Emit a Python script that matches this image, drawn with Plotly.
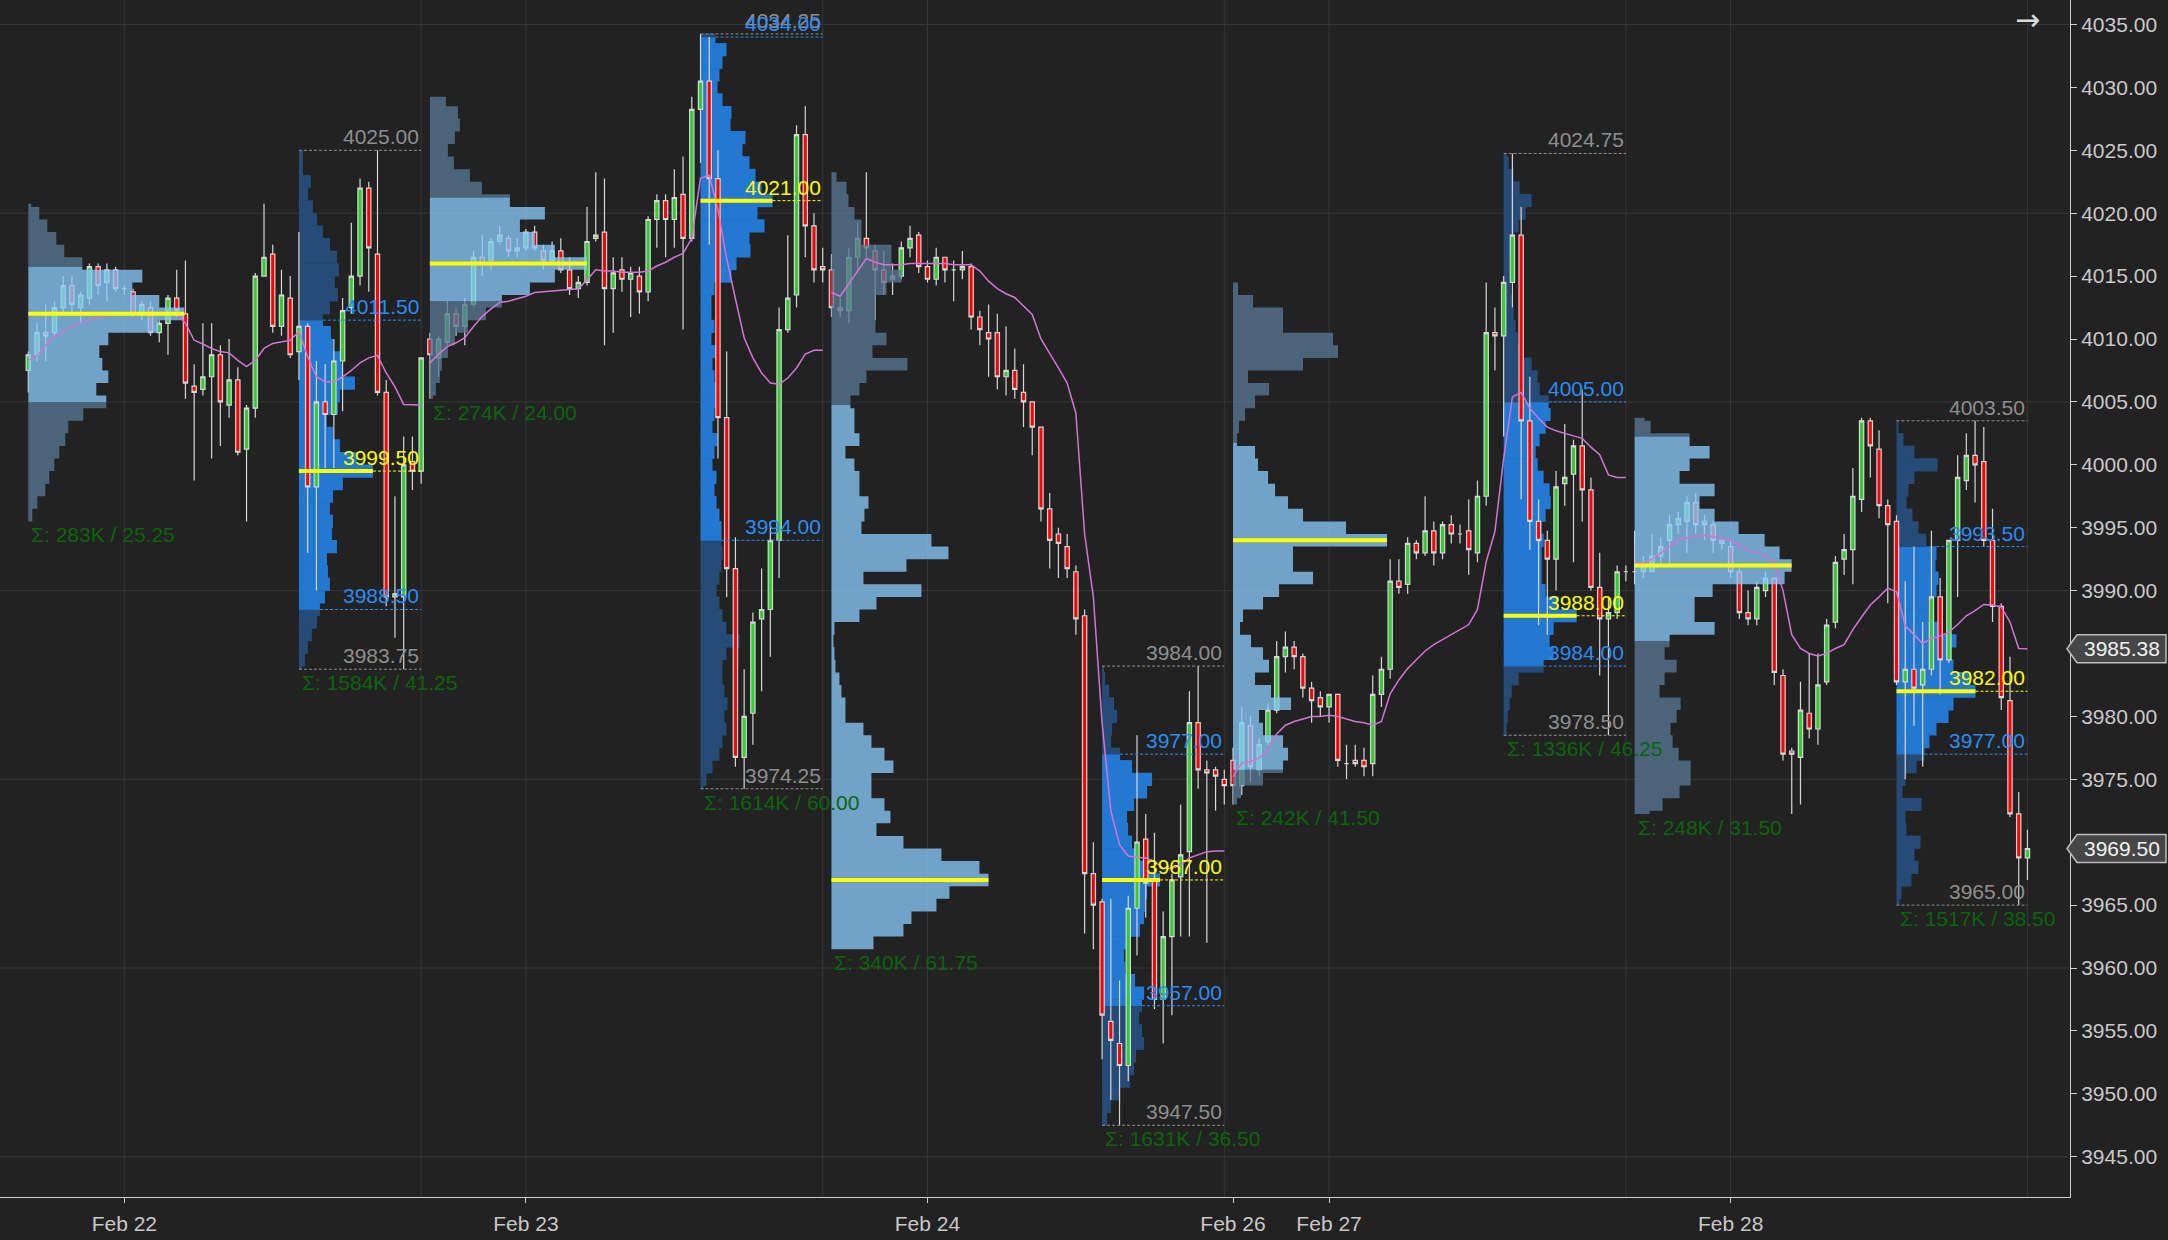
import plotly.graph_objects as go

# ---------------- DATA ----------------
# 30-minute bars, index 0..229 (gaps between sessions removed)
opens = [4007.5, 4008.75, 4010.5, 4010.5, 4012.5, 4014.25, 4012.5, 4013.25, 4015.75, 4014.5,
         4015.5, 4014.0, 4013.75, 4012.0, 4012.5, 4010.5, 4011.25, 4013.25, 4012.0, 4006.25,
         4006.0, 4007.0, 4008.75, 4004.75, 4006.75, 4001.25, 4004.5, 4015.0, 4016.75, 4011.0,
         4013.25, 4009.0, 4011.0, 3998.25, 4005.0, 4004.0, 4008.25, 4012.5, 4015.0, 4022.0,
         4016.75, 4005.75, 3989.5, 3989.5, 4000.25, 3999.5, 4010.0, 4008.5, 4009.75, 4012.0,
         4011.0, 4012.75, 4016.5, 4016.25, 4017.75, 4018.0, 4017.0, 4017.25, 4018.5, 4017.0,
         4016.25, 4017.0, 4015.5, 4014.0, 4014.5, 4018.0, 4018.5, 4014.0, 4015.5, 4014.75,
         4015.0, 4013.75, 4019.5, 4021.0, 4019.5, 4021.5, 4018.0, 4028.25, 4030.5, 4022.75,
         4003.75, 3991.75, 3976.75, 3980.25, 3987.75, 3988.5, 3994.0, 4010.75, 4013.5, 4026.25,
         4019.0, 4015.75, 4015.5, 4012.5, 4012.25, 4016.5, 4018.0, 4017.0, 4015.5, 4014.75,
         4015.0, 4017.25, 4018.25, 4015.75, 4014.75, 4016.5, 4015.5, 4015.5, 4015.75, 4011.75,
         4010.5, 4010.5, 4007.0, 4007.5, 4005.75, 4005.0, 4003.0, 3996.5, 3994.5, 3993.5,
         3991.5, 3988.0, 3967.5, 3965.25, 3955.75, 3954.0, 3952.25, 3964.75, 3970.25, 3967.0,
         3957.5, 3962.5, 3967.25, 3969.25, 3979.5, 3975.75, 3975.75, 3975.0, 3976.5, 3974.5,
         3979.25, 3975.75, 3978.0, 3980.5, 3984.75, 3985.5, 3984.75, 3982.25, 3981.5, 3980.75,
         3981.75, 3976.25, 3976.5, 3976.5, 3976.25, 3981.75, 3983.75, 3990.75, 3990.5, 3993.75,
         3993.0, 3994.75, 3993.0, 3995.25, 3994.5, 3994.75, 3993.0, 3997.5, 4010.5, 4010.25,
         4014.5, 4018.25, 4003.5, 3995.5, 3994.0, 3992.5, 3998.5, 3999.25, 4001.5, 3998.0,
         3990.25, 3987.75, 3988.25, 3991.5, 3991.5, 3991.5, 3991.5, 3992.75, 3994.0, 3995.25,
         3995.5, 3997.0, 3995.5, 3995.25, 3994.0, 3993.5, 3991.5, 3988.25, 3987.75, 3990.0,
         3991.0, 3983.25, 3977.25, 3976.75, 3980.25, 3979.0, 3982.75, 3987.5, 3992.5, 3993.25,
         3997.25, 4003.5, 4001.25, 3996.75, 3995.5, 3982.75, 3983.75, 3982.5, 3983.75, 3989.5,
         3984.5, 3994.0, 3998.75, 4000.75, 4000.25, 3994.0, 3988.75, 3981.25, 3972.25, 3968.75]
highs = [4009.0, 4011.25, 4012.75, 4013.0, 4015.0, 4015.0, 4013.75, 4016.0, 4016.0, 4016.0,
         4015.75, 4014.25, 4014.0, 4013.0, 4013.0, 4011.5, 4013.5, 4015.5, 4016.25, 4008.0,
         4011.25, 4011.25, 4009.5, 4010.0, 4007.75, 4004.75, 4015.25, 4020.75, 4017.5, 4015.5,
         4015.0, 4018.5, 4011.25, 4008.25, 4008.0, 4010.0, 4013.25, 4019.25, 4022.75, 4022.5,
         4025.0, 4006.75, 3997.5, 4002.25, 4002.25, 4008.5, 4010.5, 4010.25, 4013.0, 4012.5,
         4013.25, 4017.0, 4018.25, 4018.0, 4019.0, 4018.25, 4018.0, 4018.75, 4019.0, 4017.5,
         4017.75, 4018.0, 4016.5, 4015.0, 4020.5, 4023.25, 4022.75, 4016.5, 4016.5, 4015.75,
         4015.75, 4019.75, 4021.5, 4021.5, 4023.5, 4024.5, 4029.25, 4034.25, 4034.0, 4025.0,
         4009.0, 3994.25, 3983.75, 3988.25, 3991.75, 3995.5, 4012.5, 4018.25, 4027.0, 4028.5,
         4020.0, 4017.25, 4016.75, 4013.25, 4017.25, 4019.25, 4023.25, 4017.5, 4017.0, 4016.0,
         4017.75, 4019.0, 4018.5, 4016.25, 4017.25, 4016.5, 4016.25, 4017.0, 4016.0, 4012.25,
         4012.75, 4012.0, 4011.0, 4009.25, 4008.0, 4005.0, 4003.0, 3997.75, 3995.0, 3994.5,
         3992.0, 3988.5, 3970.0, 3965.5, 3965.5, 3959.0, 3965.75, 3978.5, 3972.25, 3970.75,
         3964.5, 3967.5, 3973.0, 3982.0, 3984.0, 3976.5, 3976.0, 3975.75, 3977.5, 3980.75,
         3980.0, 3978.25, 3981.0, 3986.0, 3986.75, 3986.0, 3985.0, 3982.75, 3982.0, 3981.75,
         3981.75, 3977.75, 3977.75, 3977.5, 3983.25, 3984.75, 3992.5, 3992.5, 3994.25, 3994.0,
         3997.5, 3995.5, 3995.5, 3996.0, 3995.25, 3997.25, 3998.75, 4014.5, 4012.5, 4015.0,
         4024.75, 4020.5, 4007.0, 3997.25, 3994.75, 3999.5, 4003.25, 4002.0, 4006.0, 3999.0,
         3993.0, 3989.5, 3992.0, 3992.0, 3994.75, 3992.75, 3994.5, 3994.25, 3996.0, 3996.25,
         3997.5, 3997.75, 3996.0, 3995.5, 3994.0, 3994.0, 3992.0, 3990.0, 3990.75, 3991.5,
         3991.0, 3983.75, 3977.5, 3982.75, 3985.0, 3985.0, 3987.75, 3992.75, 3994.5, 3999.75,
         4003.75, 4003.75, 4002.75, 3997.25, 3996.0, 3990.75, 3993.5, 3987.5, 3994.75, 3991.0,
         3994.0, 4000.75, 4002.5, 4003.5, 4003.0, 3996.5, 3989.0, 3984.75, 3974.0, 3971.0]
lows = [4005.75, 4008.25, 4008.25, 4010.25, 4012.0, 4012.0, 4011.25, 4012.75, 4013.5, 4013.0,
        4013.75, 4013.5, 4011.75, 4011.5, 4010.25, 4009.75, 4008.75, 4011.75, 4005.25, 3998.75,
        4005.5, 4000.5, 4001.5, 4003.75, 4000.75, 3995.5, 4003.75, 4015.0, 4010.5, 4010.25,
        4008.5, 4006.75, 3993.0, 3990.0, 3999.75, 3999.75, 4004.25, 4012.0, 4014.25, 4013.75,
        4005.5, 3988.75, 3986.25, 3983.75, 3998.0, 3998.5, 4005.25, 4007.0, 4009.5, 4010.25,
        4009.5, 4012.5, 4015.0, 4015.5, 4017.5, 4016.5, 4016.5, 4017.0, 4017.0, 4015.5,
        4016.0, 4015.25, 4013.5, 4013.25, 4014.25, 4017.75, 4009.5, 4010.5, 4013.75, 4011.75,
        4012.0, 4013.0, 4017.25, 4016.5, 4017.25, 4010.75, 4017.75, 4024.0, 4017.5, 4000.5,
        3989.5, 3976.0, 3974.25, 3977.75, 3982.0, 3984.75, 3991.0, 4010.5, 4012.5, 4016.5,
        4014.5, 4014.5, 4011.75, 4011.75, 4011.25, 4015.5, 4016.5, 4011.5, 4013.5, 4013.5,
        4014.75, 4016.5, 4015.25, 4014.5, 4014.25, 4014.5, 4013.0, 4014.75, 4010.75, 4009.5,
        4007.0, 4006.0, 4005.5, 4005.25, 4003.0, 4000.75, 3995.5, 3991.75, 3991.0, 3991.0,
        3986.5, 3962.75, 3961.5, 3952.75, 3949.5, 3947.5, 3951.0, 3961.0, 3964.0, 3956.75,
        3954.0, 3956.25, 3962.5, 3962.5, 3974.25, 3962.0, 3972.5, 3973.0, 3973.0, 3973.75,
        3974.75, 3975.25, 3977.75, 3980.25, 3983.5, 3983.75, 3981.5, 3979.5, 3980.0, 3979.5,
        3976.0, 3975.0, 3976.0, 3975.25, 3975.25, 3980.75, 3983.0, 3989.75, 3989.75, 3992.5,
        3992.75, 3992.0, 3992.5, 3993.75, 3993.75, 3991.25, 3992.25, 3996.75, 4007.5, 4002.25,
        4012.5, 3997.25, 3993.25, 3987.25, 3986.5, 3990.0, 3996.75, 3992.25, 3995.5, 3990.0,
        3983.25, 3978.5, 3987.75, 3990.75, 3990.5, 3991.0, 3991.5, 3992.0, 3992.0, 3994.5,
        3993.0, 3994.5, 3994.0, 3993.0, 3993.25, 3991.0, 3987.75, 3987.25, 3987.25, 3989.5,
        3982.5, 3976.5, 3972.25, 3973.0, 3978.25, 3977.75, 3982.5, 3987.0, 3991.25, 3990.5,
        3996.25, 3999.0, 3995.75, 3989.0, 3982.5, 3975.0, 3979.25, 3976.0, 3983.25, 3981.75,
        3984.25, 3989.5, 3998.0, 3997.0, 3993.5, 3987.5, 3980.5, 3972.0, 3965.0, 3967.0]
closes = [4008.75, 4010.5, 4010.25, 4012.5, 4014.25, 4012.75, 4013.5, 4015.75, 4014.25, 4015.5,
          4014.0, 4014.0, 4012.0, 4012.75, 4010.5, 4011.25, 4013.25, 4012.25, 4006.5, 4005.75,
          4007.0, 4008.75, 4005.0, 4006.75, 4001.0, 4004.5, 4015.0, 4016.5, 4011.0, 4013.5,
          4008.75, 4011.0, 3998.25, 4005.0, 4004.0, 4008.25, 4012.25, 4015.0, 4022.0, 4017.25,
          4005.75, 3989.5, 3989.75, 4000.0, 3999.5, 4008.5, 4008.75, 4010.0, 4012.0, 4011.0,
          4012.75, 4016.5, 4016.0, 4017.75, 4018.25, 4017.0, 4017.25, 4018.5, 4017.25, 4016.25,
          4017.0, 4015.5, 4014.0, 4014.5, 4017.75, 4018.25, 4014.0, 4015.25, 4014.75, 4015.25,
          4013.75, 4019.5, 4021.0, 4019.5, 4021.25, 4018.0, 4028.25, 4030.5, 4022.75, 4003.75,
          3991.75, 3976.75, 3980.0, 3987.5, 3988.5, 3994.0, 4010.75, 4013.25, 4026.25, 4019.0,
          4015.5, 4015.5, 4012.5, 4012.25, 4016.5, 4018.0, 4017.25, 4015.5, 4014.5, 4015.0,
          4017.25, 4018.0, 4015.75, 4014.75, 4016.5, 4015.5, 4015.5, 4015.75, 4011.75, 4010.75,
          4010.0, 4007.0, 4007.5, 4006.0, 4005.0, 4003.0, 3996.5, 3994.0, 3993.75, 3991.75,
          3987.75, 3967.5, 3965.0, 3956.25, 3954.25, 3952.25, 3964.75, 3970.0, 3966.75, 3957.5,
          3962.5, 3967.0, 3969.0, 3979.5, 3975.75, 3975.5, 3975.25, 3974.5, 3974.5, 3979.5,
          3976.0, 3977.75, 3980.5, 3984.75, 3985.5, 3984.75, 3982.25, 3981.25, 3980.75, 3981.75,
          3976.5, 3976.25, 3976.25, 3976.0, 3981.75, 3983.75, 3990.75, 3990.25, 3993.75, 3993.0,
          3994.75, 3993.0, 3995.25, 3994.5, 3994.5, 3993.25, 3997.5, 4010.5, 4010.25, 4014.5,
          4018.25, 4003.5, 3995.5, 3994.0, 3992.5, 3998.25, 3999.0, 4001.5, 3998.0, 3990.25,
          3987.75, 3988.25, 3991.5, 3991.5, 3991.5, 3992.0, 3992.75, 3993.5, 3995.25, 3995.75,
          3997.0, 3995.25, 3995.25, 3994.0, 3993.75, 3991.5, 3988.25, 3987.75, 3990.25, 3991.0,
          3983.5, 3977.0, 3977.0, 3980.5, 3979.0, 3982.5, 3987.25, 3992.25, 3993.25, 3997.5,
          4003.5, 4001.5, 3996.75, 3995.25, 3982.75, 3983.75, 3982.25, 3983.75, 3989.5, 3984.5,
          3994.0, 3999.0, 4000.75, 4000.0, 3994.0, 3988.75, 3981.5, 3972.25, 3968.75, 3969.5]

# session VWAP (one list per 46-bar session)
session_first_bar = [0, 46, 92, 138, 184]
vwap_1 = [4008.3, 4008.65, 4009.5, 4010.2, 4010.6, 4011.0, 4011.3, 4011.5, 4011.7, 4011.9,
          4012.0, 4012.0, 4012.0, 4012.0, 4012.0, 4012.0, 4012.0, 4012.0, 4011.25, 4009.9,
          4009.6, 4009.25, 4009.0, 4008.9, 4008.3, 4007.8, 4008.3, 4009.25, 4009.65, 4009.8,
          4009.9, 4010.6, 4008.6, 4007.0, 4006.6, 4006.6, 4007.0, 4007.5, 4008.1, 4008.5,
          4008.7, 4007.3, 4006.2, 4004.8, 4004.75, 4004.75]
vwap_2 = [4008.1, 4008.8, 4009.4, 4009.7, 4010.1, 4011.0, 4011.8, 4012.4, 4012.9, 4013.0,
          4013.2, 4013.4, 4013.7, 4013.75, 4013.8, 4013.9, 4013.95, 4014.0, 4014.7, 4015.5,
          4015.4, 4015.4, 4015.3, 4015.3, 4015.3, 4015.4, 4015.8, 4016.1, 4016.5, 4016.8,
          4018.0, 4022.8, 4023.0, 4020.3, 4016.4, 4013.2, 4010.1, 4008.5, 4007.3, 4006.5,
          4006.4, 4006.9, 4007.7, 4008.8, 4009.1, 4009.1]
vwap_3 = [4013.7, 4013.4, 4014.4, 4015.4, 4016.4, 4016.1, 4015.9, 4015.9, 4015.9, 4016.0,
          4016.0, 4016.0, 4016.0, 4016.0, 4015.9, 4015.9, 4015.9, 4015.4, 4014.6, 4014.0,
          4013.6, 4013.3, 4012.6, 4011.95, 4010.0, 4008.9, 4007.7, 4006.5, 4004.1, 3994.5,
          3989.5, 3979.5, 3972.5, 3969.8, 3968.9, 3968.8, 3968.75, 3968.5, 3967.9, 3967.9,
          3968.2, 3968.75, 3969.0, 3969.25, 3969.3, 3969.3]
vwap_4 = [3975.2, 3976.3, 3976.4, 3976.7, 3977.3, 3978.6, 3979.3, 3979.6, 3979.8, 3980.0,
          3980.0, 3980.1, 3980.0, 3979.8, 3979.6, 3979.5, 3979.3, 3979.6, 3981.8, 3982.9,
          3983.8, 3984.5, 3985.2, 3985.7, 3986.1, 3986.5, 3986.9, 3987.3, 3988.5, 3992.3,
          3994.7, 4000.5, 4005.4, 4005.75, 4004.5, 4003.7, 4003.0, 4002.7, 4002.5, 4002.3,
          4002.1, 4001.4, 4000.8, 3999.2, 3999.0, 3999.0]
vwap_5 = [3992.2, 3992.2, 3992.5, 3993.0, 3993.5, 3994.0, 3994.2, 3994.3, 3994.4, 3994.3,
          3994.1, 3994.0, 3993.6, 3993.2, 3993.0, 3992.8, 3992.2, 3990.0, 3986.5, 3985.4,
          3985.0, 3984.8, 3985.0, 3985.4, 3985.7, 3986.9, 3987.9, 3988.85, 3989.5, 3990.2,
          3989.9, 3987.2, 3986.5, 3985.8, 3986.2, 3986.4, 3986.7, 3987.3, 3988.0, 3988.4,
          3988.9, 3988.85, 3988.7, 3987.5, 3985.4, 3985.38]
vwaps = [vwap_1, vwap_2, vwap_3, vwap_4, vwap_5]

# volume profiles (ETH / RTH alternating)
prof_kind = ["ETH", "RTH", "ETH", "RTH", "ETH", "RTH", "ETH", "RTH", "ETH", "RTH"]
prof_first_bar = [0, 31, 46, 77, 92, 123, 138, 169, 184, 214]
prof_last_bar = [30, 45, 76, 91, 122, 137, 168, 183, 213, 229]
prof_high = [4020.75, 4025.00, 4029.25, 4034.25, 4023.25, 3984.00, 4014.50, 4024.75, 4003.75, 4003.50]
prof_low = [3995.50, 3983.75, 4005.25, 3974.25, 3961.50, 3947.50, 3973.00, 3978.50, 3972.25, 3965.00]
prof_vah = [4015.75, 4011.50, 4021.25, 4034.00, 4004.75, 3977.00, 4001.75, 4005.00, 4002.25, 3993.50]
prof_poc = [4012.00, 3999.50, 4016.00, 4021.00, 3967.00, 3967.00, 3994.00, 3988.00, 3992.00, 3982.00]
prof_val = [4005.00, 3988.50, 4013.00, 3994.00, 3961.50, 3957.00, 3975.75, 3984.00, 3986.00, 3977.00]
prof_total = ["283K", "1584K", "274K", "1614K", "340K", "1631K", "242K", "1336K", "248K", "1517K"]
prof_first_bin = [3996, 3983.5, 4005, 3974, 3962, 3948, 3973, 3979, 3972, 3965]  # centre of lowest 1-pt row

vol_p1 = [4, 9, 17, 21, 26, 31, 37, 40, 55, 78, 68, 80, 74, 71, 80, 130, 156, 131, 104, 114,
          54, 36, 28, 19, 11, 3]
vol_p2 = [3, 6, 9, 13, 18, 21, 26, 31, 29, 28, 38, 33, 34, 31, 34, 44, 74, 58, 41, 34,
          28, 39, 41, 56, 44, 42, 34, 32, 24, 31, 39, 36, 40, 38, 31, 24, 18, 14, 9, 12, 4, 4]
vol_p3 = [3, 6, 10, 12, 18, 25, 38, 56, 72, 100, 125, 157, 125, 105, 90, 115, 80, 52, 40, 24,
          18, 25, 30, 28, 16]
vol_p4 = [3, 6, 12, 19, 22, 26, 24, 27, 24, 22, 22, 26, 39, 26, 22, 19, 16, 19, 21, 22,
          21, 21, 19, 16, 14, 16, 12, 14, 17, 12, 14, 16, 17, 14, 12, 17, 11, 14, 11, 11,
          14, 31, 36, 50, 49, 64, 57, 72, 61, 55, 49, 42, 45, 30, 31, 22, 17, 19, 22, 26, 15]
vol_p5 = [42, 72, 80, 105, 118, 157, 148, 110, 72, 45, 59, 53, 40, 40, 62, 53, 40, 32, 14, 14,
          10, 8, 4, 3, 2, 3, 28, 45, 90, 32, 75, 117, 100, 30, 33, 37, 28, 28, 23, 14,
          28, 23, 23, 19, 28, 35, 76, 41, 55, 44, 44, 44, 55, 70, 60, 60, 30, 30, 23, 17, 15, 5]
vol_p6 = [5, 9, 18, 28, 32, 34, 42, 40, 37, 40, 42, 33, 23, 22, 28, 38, 42, 43, 45, 58,
          42, 34, 30, 26, 25, 32, 45, 50, 30, 18, 9, 10, 15, 12, 7, 3, 1]
vol_p7 = [4, 8, 30, 50, 55, 50, 30, 26, 58, 38, 22, 36, 30, 18, 7, 10, 30, 46, 80, 60,
          60, 154, 113, 70, 55, 42, 35, 25, 22, 4, 6, 12, 22, 36, 15, 70, 105, 100, 50, 50, 20, 5]
vol_p8 = [3, 4, 6, 8, 15, 40, 50, 46, 50, 73, 55, 42, 38, 38, 38, 40, 38, 42, 47, 46,
          40, 34, 32, 36, 42, 47, 45, 36, 34, 28, 20, 14, 12, 10, 8, 7, 6, 6, 8, 11,
          15, 22, 28, 16, 10, 5, 3]
vol_p9 = [15, 28, 45, 56, 56, 44, 38, 36, 42, 46, 25, 30, 42, 30, 35, 80, 60, 60, 78, 150,
          157, 145, 130, 104, 80, 65, 80, 45, 55, 75, 55, 16, 10]
vol_p10 = [3, 5, 15, 22, 18, 24, 10, 9, 25, 6, 9, 20, 28, 33, 40, 52, 57, 79, 74, 57,
           55, 60, 45, 32, 32, 40, 42, 39, 40, 30, 22, 16, 10, 12, 18, 41, 18, 7, 2]
prof_vols = [vol_p1, vol_p2, vol_p3, vol_p4, vol_p5, vol_p6, vol_p7, vol_p8, vol_p9, vol_p10]

date_tick_bar = [11, 57, 103, 138, 149, 195]
date_tick_text = ["Feb 22", "Feb 23", "Feb 24", "Feb 26", "Feb 27", "Feb 28"]
day_line_bar = [11, 45, 57, 91, 103, 137, 149, 183, 195, 229]
price_ticks = [3945 + 5 * k for k in range(19)]
grid_prices = price_ticks[::3]

# ---------------- STYLE ----------------
BG = "#222222"
GRID = "#363636"
AXIS = "#cfcfcf"
TXT = "#c8c8c8"
FONT = "Liberation Sans, Arial, sans-serif"
VOL_TO_BARS = 1.0 / 8.73          # profile length scale (volume units -> bar widths)
ETH_VA = "rgba(136,200,248,0.78)"
ETH_OUT = "rgba(87,119,147,0.78)"
RTH_VA = "#2378d2"
RTH_OUT = "#254b76"
GRAY_LBL = "#8e8e8e"
BLUE_LBL = "#2a8cf4"
YELLOW = "#ffff00"
GREEN_TXT = "#0b640b"
ROW_OVERLAP = 0.05   # hide anti-aliasing seams between rows


def segs(first_c, vols, lo, hi, a, b):
    out = []
    for k, v in enumerate(vols):
        c = first_c + k
        s0 = max(c - 0.5, lo, a)
        s1 = min(c + 0.5, hi, b)
        if s1 > s0 + 1e-9:
            out.append((s0, s1, v))
    return out


def vol_at(first_c, vols, p):
    k = int(round(p - first_c))
    k = max(0, min(len(vols) - 1, k))
    return vols[k]


fig = go.Figure()

# RTH profiles (bars, below candles)
by, bx, bb, bw, bc = [], [], [], [], []
for j in range(10):
    if prof_kind[j] != "RTH":
        continue
    parts = [(prof_low[j], prof_val[j], RTH_OUT), (prof_val[j], prof_vah[j], RTH_VA),
             (prof_vah[j], prof_high[j], RTH_OUT)]
    for a, b, col in parts:
        for s0, s1, v in segs(prof_first_bin[j], prof_vols[j], prof_low[j], prof_high[j], a, b):
            by.append((s0 + s1) / 2)
            bw.append(s1 - s0 + ROW_OVERLAP)
            bx.append(v * VOL_TO_BARS)
            bb.append(prof_first_bar[j])
            bc.append(col)
fig.add_trace(go.Bar(orientation="h", y=by, x=bx, base=bb, width=bw,
                     marker=dict(color=bc, line=dict(width=0)),
                     hoverinfo="skip", showlegend=False))

# candles
fig.add_trace(go.Candlestick(
    x=list(range(len(opens))), open=opens, high=highs, low=lows, close=closes,
    increasing=dict(fillcolor="#33cc33", line=dict(color="#d6d6d6", width=1.2)),
    decreasing=dict(fillcolor="#ff0000", line=dict(color="#d6d6d6", width=1.2)),
    whiskerwidth=0, showlegend=False, hoverinfo="skip"))

# ETH profiles (translucent polygons above candles)
poly = {ETH_OUT: ([], []), ETH_VA: ([], [])}
for j in range(10):
    if prof_kind[j] != "ETH":
        continue
    x0 = prof_first_bar[j]
    parts = [(prof_low[j], prof_val[j], ETH_OUT), (prof_val[j], prof_vah[j], ETH_VA),
             (prof_vah[j], prof_high[j], ETH_OUT)]
    for a, b, col in parts:
        ss = segs(prof_first_bin[j], prof_vols[j], prof_low[j], prof_high[j], a, b)
        if not ss:
            continue
        xs, ys = [x0], [ss[0][0]]
        for s0, s1, v in ss:
            w = x0 + v * VOL_TO_BARS
            xs += [w, w]
            ys += [s0, s1]
        xs += [x0, None]
        ys += [ss[-1][1], None]
        poly[col][0].extend(xs)
        poly[col][1].extend(ys)
for col, (xs, ys) in poly.items():
    fig.add_trace(go.Scatter(x=xs, y=ys, mode="lines", fill="toself", fillcolor=col,
                             line=dict(width=0, color="rgba(0,0,0,0)"),
                             hoverinfo="skip", showlegend=False))

# VWAP
vx, vy = [], []
for s, vals in zip(session_first_bar, vwaps):
    vx += list(range(s, s + len(vals))) + [None]
    vy += vals + [None]
fig.add_trace(go.Scatter(x=vx, y=vy, mode="lines", line=dict(color="#d274d4", width=1.5),
                         hoverinfo="skip", showlegend=False))

# RTH reference lines
lines = {GRAY_LBL: ([], []), BLUE_LBL: ([], []), YELLOW: ([], [])}
annotations = []
for j in range(10):
    if prof_kind[j] != "RTH":
        continue
    x0, x1 = prof_first_bar[j], prof_last_bar[j]
    fb, vols = prof_first_bin[j], prof_vols[j]
    items = [(prof_high[j], GRAY_LBL, x0), (prof_low[j], GRAY_LBL, x0),
             (prof_vah[j], BLUE_LBL, x0 + vol_at(fb, vols, prof_vah[j]) * VOL_TO_BARS),
             (prof_val[j], BLUE_LBL, x0 + vol_at(fb, vols, prof_val[j]) * VOL_TO_BARS),
             (prof_poc[j], YELLOW, x0 + vol_at(fb, vols, prof_poc[j]) * VOL_TO_BARS)]
    for p, col, xs in items:
        lines[col][0].extend([xs, x1, None])
        lines[col][1].extend([p, p, None])
        annotations.append(dict(x=x1, y=p, xref="x", yref="y", text=f"{p:.2f}",
                                showarrow=False, xanchor="right", yanchor="bottom",
                                font=dict(size=21, color=col, family=FONT)))
for col, (xs, ys) in lines.items():
    fig.add_trace(go.Scatter(x=xs, y=ys, mode="lines",
                             line=dict(color=col, width=1, dash="3px,2px"),
                             hoverinfo="skip", showlegend=False))

# POC thick lines
px_, py_ = [], []
for j in range(10):
    x0 = prof_first_bar[j]
    w = vol_at(prof_first_bin[j], prof_vols[j], prof_poc[j]) * VOL_TO_BARS
    px_ += [x0, x0 + w, None]
    py_ += [prof_poc[j], prof_poc[j], None]
fig.add_trace(go.Scatter(x=px_, y=py_, mode="lines", line=dict(color=YELLOW, width=4),
                         hoverinfo="skip", showlegend=False))

# sigma texts
for j in range(10):
    annotations.append(dict(x=prof_first_bar[j], y=prof_low[j], xref="x", yref="y",
                            text=f"Σ: {prof_total[j]} / {prof_high[j] - prof_low[j]:.2f}",
                            showarrow=False, xanchor="left", yanchor="top", xshift=1,
                            font=dict(size=21, color=GREEN_TXT, family=FONT)))

# grid and last-value boxes on the price axis
shapes = []
for p in grid_prices:
    shapes.append(dict(type="line", xref="paper", x0=0, x1=1, yref="y", y0=p, y1=p,
                       line=dict(color=GRID, width=1), layer="below"))
for b in day_line_bar:
    shapes.append(dict(type="line", xref="x", x0=b, x1=b, yref="paper", y0=0, y1=1,
                       line=dict(color=GRID, width=1), layer="below"))
marker_vals = [vwap_5[-1], closes[-1]]
for val in marker_vals:
    shapes.append(dict(type="path", xref="paper", yref="y", xsizemode="pixel", ysizemode="pixel",
                       xanchor=1, yanchor=val,
                       path="M -3,0 L 7,14 L 96,14 L 96,-14 L 7,-14 Z",
                       fillcolor="#464646", line=dict(color="#bdbdbd", width=1.5), layer="above"))
    annotations.append(dict(xref="paper", x=1, xshift=51.5, yref="y", y=val, text=f"{val:.2f}",
                            showarrow=False, xanchor="center", yanchor="middle",
                            font=dict(size=21, color="#f2f2f2", family=FONT)))

# tick labels hidden behind the last-value boxes
price_tick_text = ["" if any(abs(p - v) < 1.5 for v in marker_vals) else f"{p:.2f}"
                   for p in price_ticks]

annotations.append(dict(xref="paper", yref="paper", x=0.9795, y=1, yshift=0, text="→",
                        showarrow=False, xanchor="center", yanchor="top",
                        font=dict(size=30, color="#d9d9d9", family="DejaVu Sans")))

fig.update_layout(
    width=2168, height=1240, margin=dict(l=0, r=98, t=0, b=43),
    paper_bgcolor=BG, plot_bgcolor=BG, barmode="overlay", showlegend=False,
    font=dict(family=FONT, size=21, color=TXT),
    xaxis=dict(range=[-3.242, 233.874], tickvals=date_tick_bar, ticktext=date_tick_text,
               showgrid=False, zeroline=False, showline=True, linecolor=AXIS, linewidth=1,
               ticks="outside", ticklen=5, tickcolor=AXIS, rangeslider=dict(visible=False),
               tickfont=dict(size=21, color=TXT), ticklabelstandoff=3),
    yaxis=dict(range=[3941.797, 4036.948], side="right", tickvals=price_ticks,
               ticktext=price_tick_text, showgrid=False, zeroline=False,
               showline=True, linecolor=AXIS, linewidth=1, ticks="outside", ticklen=6,
               tickcolor=AXIS, tickfont=dict(size=21, color=TXT)),
    shapes=shapes, annotations=annotations,
)

fig.write_html("out.html", config={"displayModeBar": False},
               post_script="document.body.style.margin='0';document.body.style.overflow='hidden';")
